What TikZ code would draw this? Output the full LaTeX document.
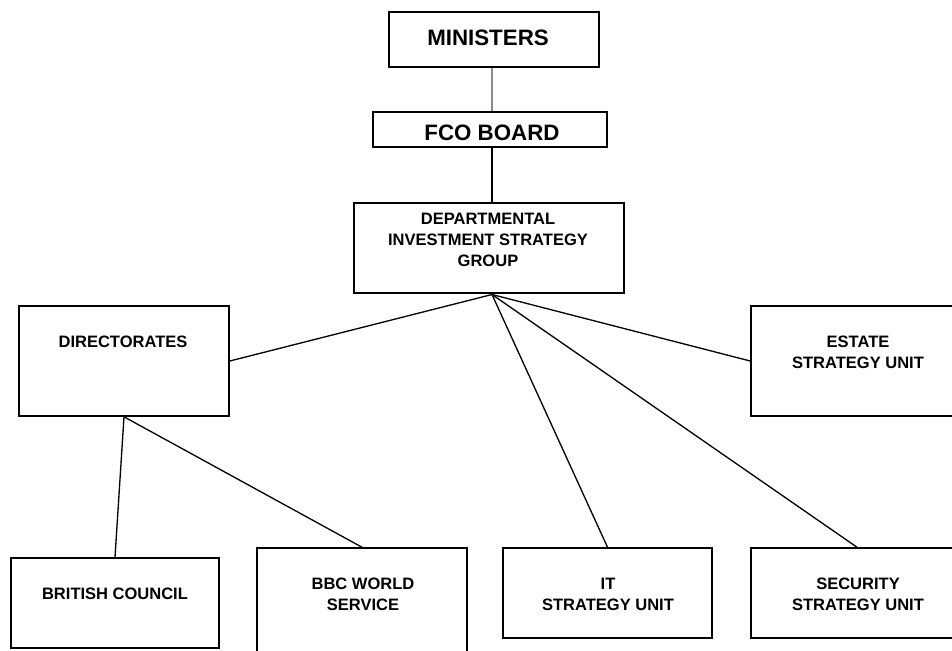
\documentclass[tikz,border=0pt]{standalone}
\usepackage{fontspec}
\setmainfont{Liberation Sans}
\tikzstyle{unit} = [rectangle, draw=black, line width=0.9pt, inner sep=0pt]
\tikzstyle{bigtext} = [font=\fontsize{12.7}{15}\selectfont\bfseries, align=center, inner sep=0pt]
\tikzstyle{smalltext} = [font=\fontsize{9.4}{11.9}\selectfont\bfseries, align=center, inner sep=0pt]
\tikzstyle{link} = [line width=0.75pt]
\tikzstyle{greylink} = [line width=0.75pt, draw=black!45]

\begin{document}
\begin{tikzpicture}[x=0.02cm, y=-0.02cm]
    \clip (0,0) rectangle (952,650);

    % boxes
    \node (min) [unit, minimum width=4.2cm, minimum height=1.1cm] at (494,39.5) {};
    \node (fco) [unit, minimum width=4.68cm, minimum height=0.7cm] at (490,129.5) {};
    \node (dis) [unit, minimum width=5.4cm, minimum height=1.8cm] at (489,248) {};
    \node (dir) [unit, minimum width=4.2cm, minimum height=2.2cm] at (124,361) {};
    \node (est) [unit, minimum width=4.24cm, minimum height=2.2cm] at (857,361) {};
    \node (bc) [unit, minimum width=4.16cm, minimum height=1.8cm] at (115,603) {};
    \node (bbc) [unit, minimum width=4.2cm, minimum height=2.2cm] at (362,603) {};
    \node (it) [unit, minimum width=4.18cm, minimum height=1.8cm] at (607.5,593) {};
    \node (sec) [unit, minimum width=4.24cm, minimum height=1.8cm] at (857,593) {};

    % texts
    \node (min-t) [bigtext] at (488,38) {MINISTERS};
    \node (fco-t) [bigtext] at (492,132.5) {FCO BOARD};
    \node (dis-t) [smalltext] at (488,240) {DEPARTMENTAL\\INVESTMENT STRATEGY\\GROUP};
    \node (dir-t) [smalltext] at (123,342) {DIRECTORATES};
    \node (est-t) [smalltext] at (858,352) {ESTATE\\STRATEGY UNIT};
    \node (bc-t) [smalltext] at (115,594) {BRITISH COUNCIL};
    \node (bbc-t) [smalltext] at (363,594.5) {BBC WORLD\\SERVICE};
    \node (it-t) [smalltext] at (608,594.5) {IT\\STRATEGY UNIT};
    \node (sec-t) [smalltext] at (858,594.5) {SECURITY\\STRATEGY UNIT};

    % connectors
    \coordinate (hub) at (492,294.5);
    \draw [greylink] (min.south -| hub) -- (fco.north -| hub);
    \draw [link] (fco.south -| hub) -- (dis.north -| hub);
    \draw [link] (hub) -- (dir.east);
    \draw [link] (hub) -- (est.west);
    \draw [link] (hub) -- (it.north);
    \draw [link] (hub) -- (sec.north);
    \draw [link] (dir.south) -- (bc.north);
    \draw [link] (dir.south) -- (bbc.north);
\end{tikzpicture}
\end{document}
